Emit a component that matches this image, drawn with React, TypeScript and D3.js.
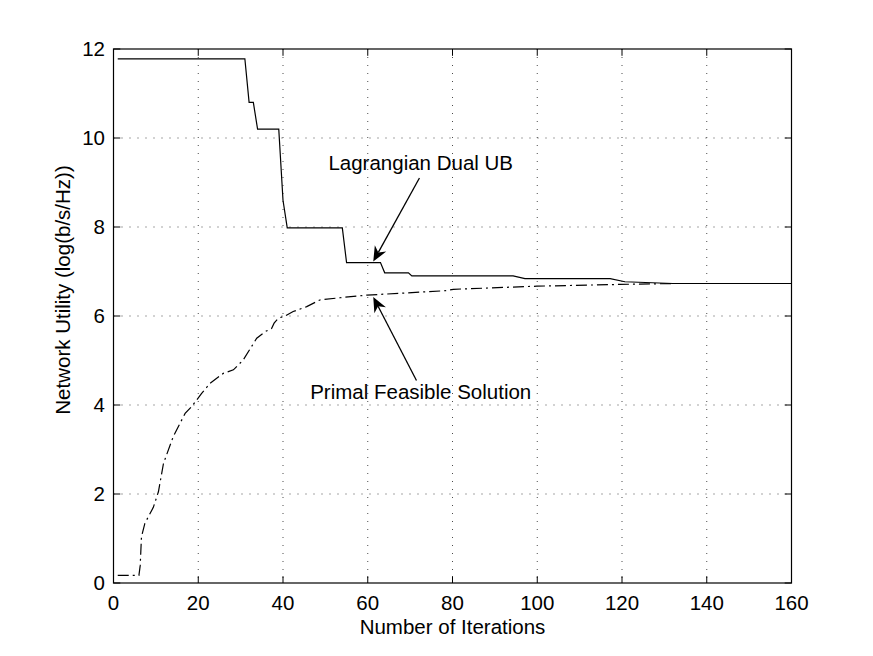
import React from "react";
import * as d3 from "d3";

const dualX = [1, 31, 32, 33, 34, 39, 40, 41, 54, 55, 63, 64, 69.6, 70.4, 94.3, 97.1, 117.2, 120.7, 132, 160];
const dualY = [11.78, 11.78, 10.8, 10.8, 10.2, 10.2, 8.6, 7.98, 7.98, 7.2, 7.2, 6.97, 6.97, 6.9, 6.9, 6.84, 6.84, 6.77, 6.73, 6.73];

const primalX = [1, 6, 6.3, 6.6, 7.4, 9.4, 10.6, 11.8, 14.1, 15.7, 16.9, 18.4, 20.8, 22.8, 25.9, 28.3, 30.6, 33.8, 35.8, 37.3, 37.9, 38.9, 40.5, 42.4, 45.6, 48.7, 53.4, 59.8, 67.6, 78.6, 80.2, 99.9, 119.5, 132, 160];
const primalY = [0.17, 0.17, 0.39, 1.04, 1.34, 1.7, 2.05, 2.69, 3.29, 3.59, 3.81, 3.96, 4.26, 4.49, 4.71, 4.79, 5.01, 5.5, 5.65, 5.72, 5.84, 5.95, 6.0, 6.1, 6.21, 6.36, 6.41, 6.47, 6.51, 6.57, 6.6, 6.67, 6.71, 6.73, 6.73];

const xTicks = [0, 20, 40, 60, 80, 100, 120, 140, 160];
const yTicks = [0, 2, 4, 6, 8, 10, 12];

const xLabel = "Number of Iterations";
const yLabel = "Network Utility (log(b/s/Hz))";
const dualLabel = "Lagrangian Dual UB";
const primalLabel = "Primal Feasible Solution";

const dualNote = { tipX: 61.3, tipY: 7.2, tailX: 72.2, tailY: 9.1, textX: 72.5, textY: 9.27 };
const primalNote = { tipX: 61.3, tipY: 6.45, tailX: 71.5, tailY: 4.55, textX: 72.5, textY: 4.13 };

const W = 873;
const H = 656;
const M = { left: 113.5, right: 791.5, top: 49, bottom: 583 };
const FONT = "'Liberation Sans', Arial, Helvetica, sans-serif";
const FS = 20.5;

function Arrow({ x1, y1, x2, y2 }: { x1: number; y1: number; x2: number; y2: number }) {
  const dx = x2 - x1;
  const dy = y2 - y1;
  const len = Math.sqrt(dx * dx + dy * dy);
  const ux = dx / len;
  const uy = dy / len;
  const px = -uy;
  const py = ux;
  const hl = 15;
  const hw = 6.5;
  const bx = x2 - ux * hl;
  const by = y2 - uy * hl;
  const nx = x2 - ux * hl * 0.7;
  const ny = y2 - uy * hl * 0.7;
  const pts = [
    [x2, y2],
    [bx + px * hw, by + py * hw],
    [nx, ny],
    [bx - px * hw, by - py * hw],
  ];
  return (
    <g>
      <line x1={x1} y1={y1} x2={nx} y2={ny} stroke="#000" strokeWidth={1.3} />
      <polygon points={pts.map((p) => p.join(",")).join(" ")} fill="#000" />
    </g>
  );
}

export default function App() {
  const x = d3.scaleLinear().domain([0, 160]).range([M.left, M.right]);
  const y = d3.scaleLinear().domain([0, 12]).range([M.bottom, M.top]);

  const line = d3
    .line<[number, number]>()
    .x((d) => x(d[0]))
    .y((d) => y(d[1]));

  const dualPts = dualX.map((v, i) => [v, dualY[i]] as [number, number]);
  const primalPts = primalX.map((v, i) => [v, primalY[i]] as [number, number]);
  const tick = 6.8;

  return (
    <svg
      width={W}
      height={H}
      style={{ position: "absolute", left: 0, top: 0, background: "#fff" }}
      fontFamily={FONT}
    >
      <rect x={0} y={0} width={W} height={H} fill="#fff" />
      <g stroke="#000" strokeWidth={1} strokeDasharray="1,7" opacity={0.7}>
        {xTicks.slice(1, -1).map((t) => (
          <line key={"gx" + t} x1={x(t)} x2={x(t)} y1={M.top} y2={M.bottom} />
        ))}
        {yTicks.slice(1, -1).map((t) => (
          <line key={"gy" + t} x1={M.left} x2={M.right} y1={y(t)} y2={y(t)} />
        ))}
      </g>
      <path d={line(dualPts) || ""} fill="none" stroke="#000" strokeWidth={1.2} />
      <path
        d={line(primalPts) || ""}
        fill="none"
        stroke="#000"
        strokeWidth={1.2}
        strokeDasharray="11,4,2,4"
      />
      <rect
        x={M.left}
        y={M.top}
        width={M.right - M.left}
        height={M.bottom - M.top}
        fill="none"
        stroke="#000"
        strokeWidth={1.2}
      />
      <g stroke="#000" strokeWidth={1}>
        {xTicks.map((t) => (
          <g key={"tx" + t}>
            <line x1={x(t)} x2={x(t)} y1={M.bottom} y2={M.bottom - tick} />
            <line x1={x(t)} x2={x(t)} y1={M.top} y2={M.top + tick} />
          </g>
        ))}
        {yTicks.map((t) => (
          <g key={"ty" + t}>
            <line x1={M.left} x2={M.left + tick} y1={y(t)} y2={y(t)} />
            <line x1={M.right} x2={M.right - tick} y1={y(t)} y2={y(t)} />
          </g>
        ))}
      </g>
      <g fontSize={FS} fill="#000">
        {xTicks.map((t) => (
          <text key={"lx" + t} x={x(t)} y={M.bottom + 27} textAnchor="middle">
            {t}
          </text>
        ))}
        {yTicks.map((t) => (
          <text key={"ly" + t} x={M.left - 8.5} y={y(t) + 7.4} textAnchor="end">
            {t}
          </text>
        ))}
      </g>
      <text x={(M.left + M.right) / 2} y={634} textAnchor="middle" fontSize={FS}>
        {xLabel}
      </text>
      <text transform={`translate(70,290) rotate(-90)`} textAnchor="middle" fontSize={FS}>
        {yLabel}
      </text>
      <text x={x(dualNote.textX)} y={y(dualNote.textY)} textAnchor="middle" fontSize={FS}>
        {dualLabel}
      </text>
      <Arrow
        x1={x(dualNote.tailX)}
        y1={y(dualNote.tailY)}
        x2={x(dualNote.tipX)}
        y2={y(dualNote.tipY) - 1}
      />
      <text x={x(primalNote.textX)} y={y(primalNote.textY)} textAnchor="middle" fontSize={FS}>
        {primalLabel}
      </text>
      <Arrow
        x1={x(primalNote.tailX)}
        y1={y(primalNote.tailY)}
        x2={x(primalNote.tipX)}
        y2={y(primalNote.tipY) + 1}
      />
    </svg>
  );
}
